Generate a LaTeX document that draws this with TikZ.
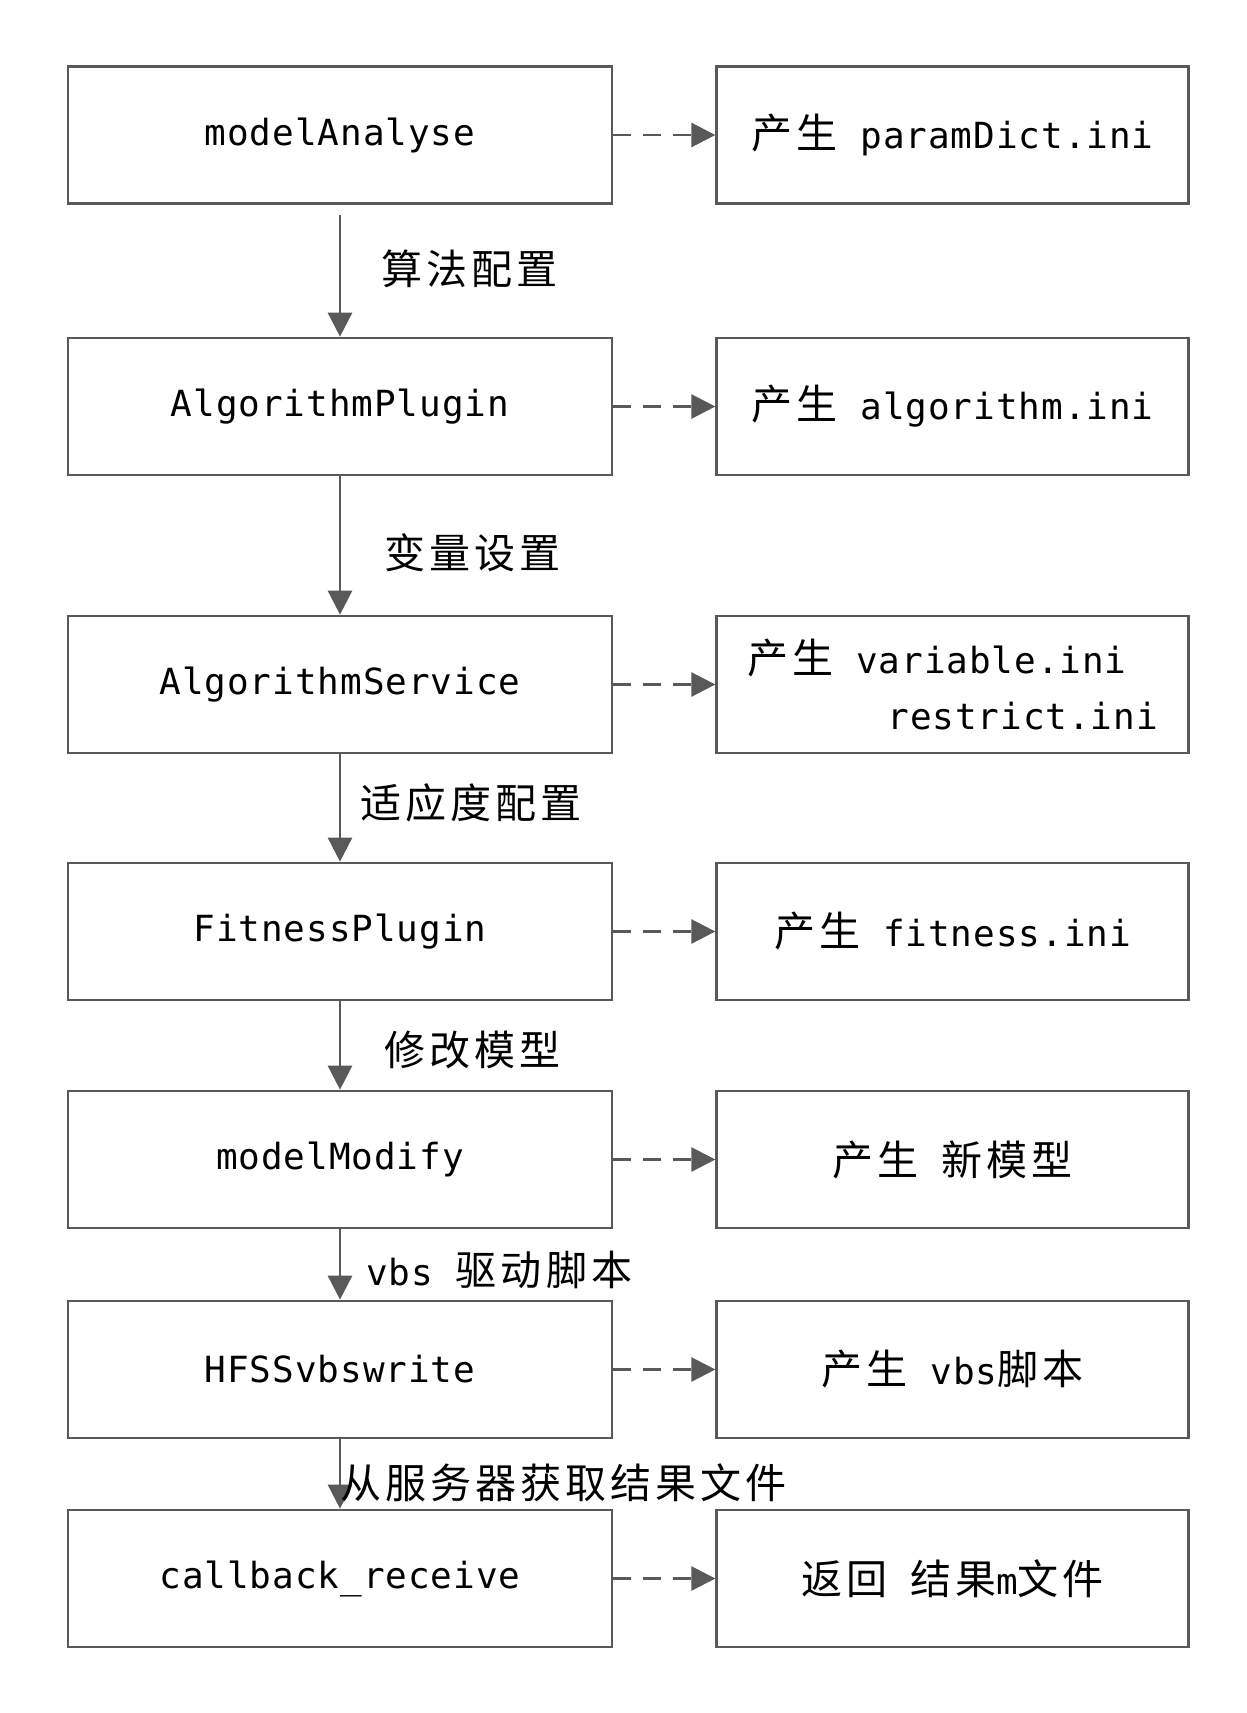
\documentclass[tikz,border=0pt]{standalone}
\usepackage{fontspec}
\setmainfont[LetterSpace=2.6]{DejaVu Sans Mono}
\newfontfamily\cjk[Scale=1.14, LetterSpace=9.8]{Noto Sans CJK SC}
\newcommand\zh[1]{{\cjk #1}}
\usepackage{tikz}
\usetikzlibrary{arrows.meta,positioning}
\definecolor{linegray}{HTML}{595959}
\tikzset{proc/.style={rectangle, draw=linegray, line width=1.35pt, minimum width=272pt, minimum height=68.5pt, inner sep=0pt},
	outbox/.style={proc, minimum width=236pt},
	flow/.style={draw=linegray, line width=1.35pt, -{Triangle[length=12pt,width=12pt]}},
	gen/.style={flow, dash pattern=on 9pt off 6pt},
	lbl/.style={anchor=west, inner sep=0pt}
}
\begin{document}
\begin{tikzpicture}[x=0.5pt, y=-0.5pt, node distance=51pt,
			font=\fontsize{18pt}{28pt}\selectfont]
		\useasboundingbox (0,0) rectangle (1247,1713);
		\node[proc] (analyse) at (340,135) {modelAnalyse};
		\node[proc] (plugin) at (340,406.5) {AlgorithmPlugin};
		\node[proc] (service) at (340,684.5) {AlgorithmService};
		\node[proc] (fitness) at (340,931.5) {FitnessPlugin};
		\node[proc] (modify) at (340,1159.5) {modelModify};
		\node[proc] (vbswrite) at (340,1369.5) {HFSSvbswrite};
		\node[proc] (callback) at (340,1578.5) {callback\_receive};
		\node[outbox, right=of analyse] (paramini) {\zh{产生} paramDict.ini};
		\node[outbox, right=of plugin] (algoini) {\zh{产生} algorithm.ini};
		\node[outbox, right=of service, align=left] (varini) {\zh{产生} variable.ini\\\hspace*{70pt}restrict.ini};
		\node[outbox, right=of fitness] (fitini) {\zh{产生} fitness.ini};
		\node[outbox, right=of modify] (newmodel) {\zh{产生} \zh{新模型}};
		\node[outbox, right=of vbswrite] (vbsfile) {\zh{产生} vbs\zh{脚本}};
		\node[outbox, right=of callback] (result) {\zh{返回} \zh{结果}m\zh{文件}};
		\draw[flow] ([yshift=-5pt]analyse.south) -- (plugin);
		\draw[flow] (plugin) -- (service);
		\draw[flow] (service) -- (fitness);
		\draw[flow] (fitness) -- (modify);
		\draw[flow] (modify) -- (vbswrite);
		\draw[flow] (vbswrite) -- (callback);
		\draw[gen] (analyse) -- (paramini);
		\draw[gen] (plugin) -- (algoini);
		\draw[gen] (service) -- (varini);
		\draw[gen] (fitness) -- (fitini);
		\draw[gen] (modify) -- (newmodel);
		\draw[gen] (vbswrite) -- (vbsfile);
		\draw[gen] (callback) -- (result);
		\node[lbl] (cfgalgo) at (381,269) {\zh{算法配置}};
		\node[lbl] (cfgvar) at (384,553) {\zh{变量设置}};
		\node[lbl] (cfgfit) at (360,803) {\zh{适应度配置}};
		\node[lbl] (chgmodel) at (384,1050) {\zh{修改模型}};
		\node[lbl] (drivevbs) at (366,1270) {vbs \zh{驱动脚本}};
		\node[lbl] (fetch) at (340,1483) {\zh{从服务器获取结果文件}};
\end{tikzpicture}
\end{document}
